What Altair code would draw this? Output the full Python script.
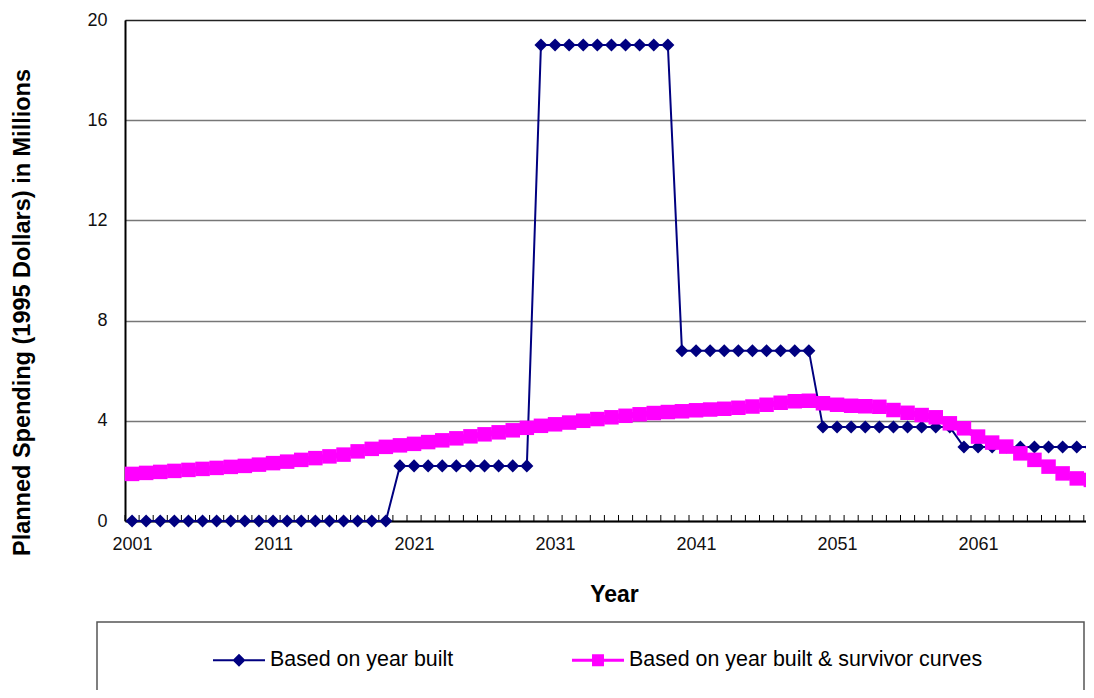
import altair as alt
import pandas as pd

# ---------------- data ----------------
years = list(range(2001, 2070))

built_values = [
    0, 0, 0, 0, 0, 0, 0, 0, 0, 0,          # 2001-2010
    0, 0, 0, 0, 0, 0, 0, 0, 0,             # 2011-2019
    2.2, 2.2, 2.2, 2.2, 2.2, 2.2, 2.2, 2.2, 2.2, 2.2,   # 2020-2029
    19, 19, 19, 19, 19, 19, 19, 19, 19, 19,             # 2030-2039
    6.8, 6.8, 6.8, 6.8, 6.8, 6.8, 6.8, 6.8, 6.8, 6.8,   # 2040-2049
    3.75, 3.75, 3.75, 3.75, 3.75, 3.75, 3.75, 3.75, 3.75, 3.75,  # 2050-2059
    2.95, 2.95, 2.95, 2.95, 2.95, 2.95, 2.95, 2.95, 2.95, 2.95,  # 2060-2069
]

survivor_values = [
    1.88, 1.92, 1.96, 2.00, 2.04, 2.08, 2.12, 2.16, 2.20, 2.25,  # 2001-2010
    2.31, 2.37, 2.44, 2.51, 2.58, 2.65, 2.78, 2.88, 2.96, 3.02,  # 2011-2020
    3.08, 3.15, 3.22, 3.30, 3.38, 3.46, 3.54, 3.62, 3.72, 3.80,  # 2021-2030
    3.86, 3.93, 4.00, 4.07, 4.14, 4.20, 4.26, 4.31, 4.35, 4.38,  # 2031-2040
    4.42, 4.45, 4.48, 4.52, 4.57, 4.64, 4.72, 4.78, 4.80, 4.70,  # 2041-2050
    4.64, 4.60, 4.58, 4.56, 4.43, 4.32, 4.23, 4.14, 3.90, 3.70,  # 2051-2060
    3.37, 3.13, 2.97, 2.70, 2.44, 2.17, 1.90, 1.70, 1.64,        # 2061-2069
]

series_names = ["Based on year built", "Based on year built & survivor curves"]
series_colors = ["#000080", "#FF00FF"]
# legend symbols: line segment + marker (custom paths, unit box [-1,1])
legend_paths = [
    "M-1,-0.04H1V0.04H-1Z M0,-0.25L0.25,0L0,0.25L-0.25,0Z",
    "M-1,-0.06H1V0.06H-1Z M-0.23,-0.23H0.23V0.23H-0.23Z",
]

x_label_years = [2001, 2011, 2021, 2031, 2041, 2051, 2061]
y_tick_values = [0, 4, 8, 12, 16, 20]
tick_positions = [y - 0.5 for y in years] + [years[-1] + 0.5]

y_title = "Planned Spending (1995 Dollars) in Millions"
x_title = "Year"

# ---------------- tables ----------------
df_built = pd.DataFrame({"year": years, "value": built_values, "series": series_names[0]})
df_surv = pd.DataFrame({"year": years, "value": survivor_values, "series": series_names[1]})
df_all = pd.concat([df_built, df_surv], ignore_index=True)
df_ticks = pd.DataFrame({"year": tick_positions})
df_box = pd.DataFrame({"k": [0]})

W, H = 961, 501
PX_PER_YEAR = 14.1
FONT = "Liberation Sans"

# the reference plot is cropped at the right edge; keep the year spacing
x_scale = alt.Scale(domain=[years[0] - 0.5, years[0] - 0.5 + W / PX_PER_YEAR], nice=False, zero=False)
y_scale = alt.Scale(domain=[0, 20], nice=False, zero=True)

x_axis = alt.Axis(
    values=x_label_years, format="d", title=x_title, ticks=False, grid=False,
    labelFontSize=18, labelPadding=14, labelFlush=False, labelOverlap=False,
    labelColor="#111", domainColor="black", domainWidth=2,
    titleFontSize=23, titleFontWeight="bold", titleColor="black",
    titleX=489, titleY=80, titleBaseline="alphabetic", titleAlign="center",
)
y_axis = alt.Axis(
    values=y_tick_values, format="d", title=y_title, ticks=False, grid=True,
    gridColor={"condition": {"test": "datum.value == 20", "value": "#222"}, "value": "#777777"},
    gridWidth=1.4,
    labelFontSize=18, labelPadding=18, labelColor="#111",
    domainColor="black", domainWidth=2,
    titleFontSize=23.5, titleFontWeight="bold", titleColor="black",
    titleX=-103, titleY=292, titleAngle=270, titleAlign="center", titleBaseline="middle",
)

X = alt.X("year:Q", scale=x_scale, axis=x_axis)
Y = alt.Y("value:Q", scale=y_scale, axis=y_axis)

box = alt.Chart(df_box).mark_rect(fill="white", stroke="#555", strokeWidth=1.5).encode(
    x=alt.value(-28), x2=alt.value(959), y=alt.value(602), y2=alt.value(720)
)

ticks = alt.Chart(df_ticks).mark_rule(color="black", strokeWidth=1).encode(
    x=X, y=alt.value(H), y2=alt.value(H - 6)
)

blue_line = alt.Chart(df_built).mark_line(color=series_colors[0], strokeWidth=2).encode(x=X, y=Y)
blue_pts = alt.Chart(df_built).mark_point(
    shape="diamond", filled=True, size=170, color=series_colors[0], opacity=1
).encode(x=X, y=Y)
pink_line = alt.Chart(df_surv).mark_line(color=series_colors[1], strokeWidth=6).encode(x=X, y=Y)
pink_pts = alt.Chart(df_surv).mark_point(
    shape="square", filled=True, size=210, color=series_colors[1], opacity=1
).encode(x=X, y=Y)

legend = alt.Legend(
    title=None, orient="none", legendX=88, legendY=614, direction="horizontal",
    columnPadding=118, labelOffset=5, labelFontSize=21.4, labelFont=FONT,
    labelColor="black", labelLimit=0, padding=0, symbolSize=2704,
    symbolStrokeWidth=0, symbolOpacity=1, symbolOffset=0,
)
legend_layer = alt.Chart(df_all).mark_point(filled=True, size=2704).encode(
    x=X, y=Y,
    color=alt.Color("series:N", scale=alt.Scale(domain=series_names, range=series_colors), legend=legend),
    shape=alt.Shape("series:N", scale=alt.Scale(domain=series_names, range=legend_paths), legend=legend),
).transform_filter("datum.year < 0")

chart = alt.layer(box, ticks, blue_line, blue_pts, pink_line, pink_pts, legend_layer).properties(
    width=W, height=H,
    autosize=alt.AutoSizeParams(type="none"),
    padding={"left": 117, "top": 12, "right": 0, "bottom": 169},
).configure(
    font=FONT,
).configure_view(
    stroke="#7a7a7a", strokeWidth=1,
)

chart.save("out.html", embed_options={"renderer": "svg", "actions": False})
